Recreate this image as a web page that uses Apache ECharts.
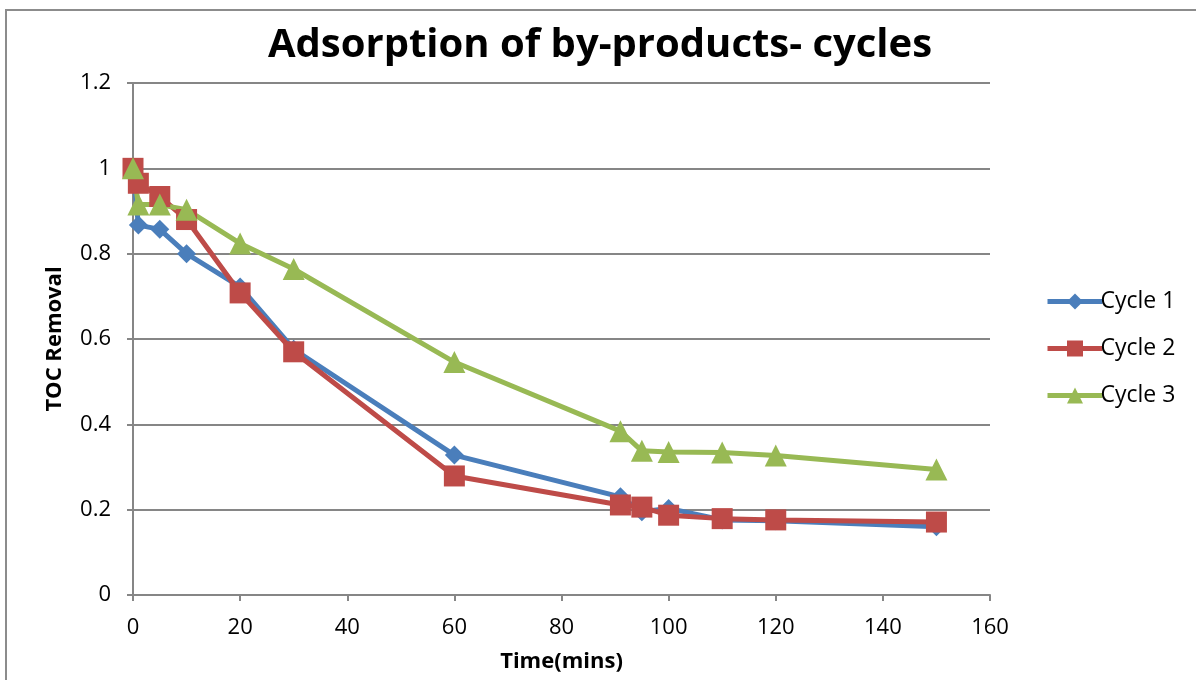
<!DOCTYPE html>
<html>
<head>
<meta charset="utf-8">
<script src="https://cdn.jsdelivr.net/npm/echarts@6/dist/echarts.min.js"></script>
<style>html,body{margin:0;padding:0;background:#fff}#c{width:1196px;height:680px}</style>
</head>
<body>
<div id="c"></div>
<script>
const time = [0, 1, 5, 10, 20, 30, 60, 91, 95, 100, 110, 120, 150];
const cycle1 = [1.0, 0.867, 0.857, 0.80, 0.722, 0.576, 0.328, 0.23, 0.195, 0.203, 0.176, 0.174, 0.16];
const cycle2 = [1.0, 0.965, 0.934, 0.88, 0.708, 0.57, 0.279, 0.211, 0.206, 0.187, 0.179, 0.176, 0.171];
const cycle3 = [1.0, 0.915, 0.915, 0.903, 0.824, 0.764, 0.546, 0.384, 0.338, 0.335, 0.334, 0.327, 0.294];
const seriesNames = ['Cycle 1', 'Cycle 2', 'Cycle 3'];
const titleText = 'Adsorption of by-products- cycles';
const xName = 'Time(mins)';
const yName = 'TOC Removal';

const font = 'Open Sans, Noto Sans, sans-serif';
const chart = echarts.init(document.getElementById('c'));
const pair = arr => time.map((t, i) => [t, arr[i]]);
const mk = (name, data, color, symbol, size) => ({
  name, type: 'line', data: pair(data), symbol, symbolSize: size,
  lineStyle: { color, width: 5 }, itemStyle: { color },
  showSymbol: true, animation: false
});
chart.setOption({
  animation: false,
  graphic: [{ type: 'rect', shape: { x: 6, y: 10, width: 1200, height: 700 },
    style: { fill: 'none', stroke: '#8c8c8c', lineWidth: 2 }, silent: true }],
  title: { text: titleText, left: 595, top: 21, textAlign: 'center',
    textStyle: { fontFamily: font, fontSize: 40, fontWeight: 'bold', color: '#000' } },
  grid: { left: 133, right: 206, top: 83, bottom: 85 },
  legend: {
    orient: 'vertical', left: 1040, top: 285, itemGap: 24, itemWidth: 55, itemHeight: 20,
    lineStyle: { width: 5 },
    textStyle: { fontFamily: font, fontSize: 23, color: '#000', padding: [0,0,0,-7] },
    data: seriesNames
  },
  xAxis: {
    type: 'value', min: 0, max: 160, interval: 20,
    name: xName, nameLocation: 'middle', nameGap: 56,
    nameTextStyle: { fontFamily: font, fontSize: 22, fontWeight: 'bold', color: '#000' },
    axisLine: { lineStyle: { color: '#868686', width: 2 } },
    axisTick: { show: true, length: 6, lineStyle: { color: '#868686', width: 2 } },
    axisLabel: { fontFamily: font, fontSize: 22, color: '#000', margin: 22 },
    splitLine: { show: false }
  },
  yAxis: {
    type: 'value', min: 0, max: 1.2, interval: 0.2,
    name: yName, nameLocation: 'middle', nameGap: 67, nameRotate: 90,
    nameTextStyle: { fontFamily: font, fontSize: 22, fontWeight: 'bold', color: '#000' },
    axisLine: { show: true, lineStyle: { color: '#868686', width: 2 } },
    axisTick: { show: true, length: 6, lineStyle: { color: '#868686', width: 2 } },
    axisLabel: { fontFamily: font, fontSize: 22, color: '#000', margin: 22,
      formatter: v => String(Math.round(v * 10) / 10) },
    splitLine: { show: true, lineStyle: { color: '#868686', width: 2 } }
  },
  series: [
    mk(seriesNames[0], cycle1, '#4a7ebb', 'diamond', 19),
    mk(seriesNames[1], cycle2, '#be4b48', 'rect', 21),
    mk(seriesNames[2], cycle3, '#98b954', 'triangle', 22)
  ]
});
</script>
</body>
</html>
